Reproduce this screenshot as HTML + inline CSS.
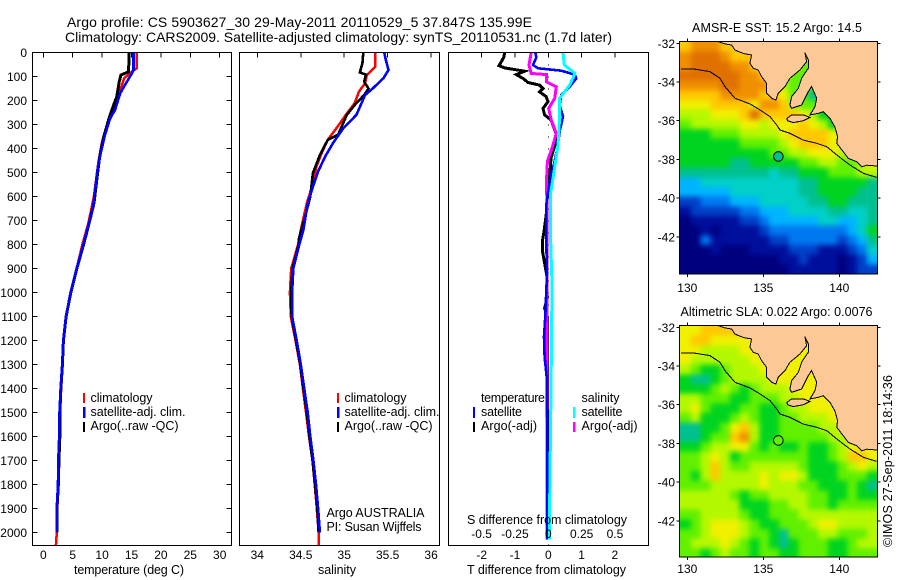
<!DOCTYPE html>
<html lang="en">
<head>
<meta charset="utf-8">
<title>Argo profile 5903627_30</title>
<style>
html,body{margin:0;padding:0;background:#fff;}
svg{display:block;}
text{font-family:"Liberation Sans",Arial,sans-serif;fill:#000;font-size:12px;}
.title{font-size:14px;}
.leg{font-size:12.5px;}
.axl{font-size:12.5px;}
.crisp{shape-rendering:crispEdges;}
</style>
</head>
<body>
<svg id="chart" xmlns="http://www.w3.org/2000/svg" width="900" height="580" viewBox="0 0 900 580">
  <defs>
    <filter id="fieldSmooth" filterUnits="userSpaceOnUse" x="640" y="0" width="260" height="580" color-interpolation-filters="sRGB">
      <feGaussianBlur stdDeviation="2.6"/>
      <feComponentTransfer>
        <feFuncA type="linear" slope="100" intercept="0"/>
      </feComponentTransfer>
    </filter>
    <clipPath id="mapClipA"><rect x="680" y="42" width="197" height="232"/></clipPath>
    <clipPath id="mapClipB"><rect x="680" y="326" width="197" height="231"/></clipPath>
  </defs>
  <rect x="0" y="0" width="900" height="580" fill="#fff"/>
  <text class="title" x="67" y="27" textLength="465">Argo profile: CS 5903627_30 29-May-2011 20110529_5 37.847S 135.99E</text>
  <text class="title" x="65" y="42" textLength="547">Climatology: CARS2009. Satellite-adjusted climatology: synTS_20110531.nc (1.7d later)</text>

  <g id="panelT"></g>
  <g id="panelS"></g>
  <g id="panelD"></g>
  <g id="mapA"></g>
  <g id="mapB"></g>

  <text class="axl" x="74" y="574" textLength="110">temperature (deg C)</text>
  <text class="axl" x="318" y="574" textLength="38">salinity</text>
  <text class="axl" x="467" y="574" textLength="159">T difference from climatology</text>
  <text class="axl" x="467" y="524" textLength="160">S difference from climatology</text>

  <rect class="crisp" x="83" y="393" width="2" height="10" fill="#ff0000"/>
  <rect class="crisp" x="83" y="407" width="2.5" height="11" fill="#0000ff"/>
  <rect class="crisp" x="83" y="422" width="2" height="10" fill="#000"/>
  <text class="leg" x="90.5" y="402" textLength="62">climatology</text>
  <text class="leg" x="90.5" y="416" textLength="95">satellite-adj. clim.</text>
  <text class="leg" x="90.5" y="430" textLength="88">Argo(..raw -QC)</text>

  <rect class="crisp" x="337" y="393" width="2" height="10" fill="#ff0000"/>
  <rect class="crisp" x="337" y="407" width="2.5" height="11" fill="#0000ff"/>
  <rect class="crisp" x="337" y="422" width="2" height="10" fill="#000"/>
  <text class="leg" x="344.5" y="402" textLength="62">climatology</text>
  <text class="leg" x="344.5" y="416" textLength="95">satellite-adj. clim.</text>
  <text class="leg" x="344.5" y="430" textLength="88">Argo(..raw -QC)</text>
  <text class="leg" x="326.5" y="517" textLength="98">Argo AUSTRALIA</text>
  <text class="leg" x="326.5" y="531" textLength="95">PI: Susan Wijffels</text>

  <text class="leg" x="481" y="402" textLength="64">temperature</text>
  <text class="leg" x="481" y="416" textLength="41">satellite</text>
  <text class="leg" x="481" y="430" textLength="56">Argo(-adj)</text>
  <text class="leg" x="581.5" y="402" textLength="38">salinity</text>
  <text class="leg" x="581.5" y="416" textLength="41">satellite</text>
  <text class="leg" x="581.5" y="430" textLength="56">Argo(-adj)</text>
  <rect class="crisp" x="473" y="407" width="2" height="11" fill="#0000ff"/>
  <rect class="crisp" x="473" y="422" width="2" height="10" fill="#000"/>
  <rect class="crisp" x="573" y="407" width="2.5" height="11" fill="#00ffff"/>
  <rect class="crisp" x="573" y="422" width="2.5" height="10" fill="#ff00ff"/>

  <text class="axl" x="692" y="32" textLength="170">AMSR-E SST: 15.2 Argo: 14.5</text>
  <text class="axl" x="680.5" y="316" textLength="192">Altimetric SLA: 0.022 Argo: 0.0076</text>
  <text class="axl" transform="translate(892,547) rotate(-90)" textLength="172">©IMOS 27-Sep-2011 18:14:36</text>
</svg>
<script>
/* ---------- shared tick data ---------- */
var depthTicks = [0,100,200,300,400,500,600,700,800,900,1000,1100,1200,1300,1400,1500,1600,1700,1800,1900,2000];
var tempTicks = [0,5,10,15,20,25,30];
var salTicks = [34,34.5,35,35.5,36];
var tDiffTicks = [-2,-1,0,1,2];
var sDiffTicks = [-0.5,-0.25,0,0.25,0.5];
var sDiffTickLabels = ["-0.5","-0.25","0","0.25","0.5"];
var lonTicks = [130,135,140];
var latTicks = [-32,-34,-36,-38,-40,-42];

/* ---------- temperature profiles ---------- */
var climTempDepth = [0,66,80,108,156,232,302,378,454,530,600,711,800,900,1000,1100,1200,1300,1400,1500,1600,1700,1800,1900,2000,2054];
var climTemp = [15.9,15.9,15.05,13.75,13.07,12.2,10.9,9.95,9.38,8.98,8.6,7.67,6.65,5.68,4.66,3.86,3.45,3.3,3.05,2.85,2.85,2.7,2.6,2.38,2.3,2.15];
var satTempDepth = [0,73,94,135,170,240,274,343,412,482,558,655,703,800,900,1000,1100,1200,1300,1400,1500,1600,1700,1800,1900,2000];
var satTemp = [15.34,15.34,14.9,13.9,13.07,12.2,11.36,10.5,9.83,9.26,8.87,8.4,7.84,6.8,5.68,4.66,3.86,3.4,3.23,2.95,2.75,2.7,2.55,2.5,2.3,2.3];
var argoTempDepth = [0,80,94,122,184,240,281,358,440,530,627,683,800,900,1000,1100,1200,1300,1400,1500,1600,1700,1800,1900,2000];
var argoTemp = [14.6,14.5,13.2,12.9,12.5,11.65,11.1,10.2,9.55,9.1,8.63,8.07,6.85,5.7,4.68,3.88,3.42,3.25,2.97,2.8,2.8,2.65,2.55,2.32,2.3];

/* ---------- salinity profiles ---------- */
var climSalDepth = [0,59,94,128,163,212,254,316,364,420,476,559,628,739,800,900,1000,1100,1200,1300,1400,1500,1600,1700,1800,1900,2000,2054];
var climSal = [35.354,35.36,35.26,35.24,35.17,35.12,35.03,34.91,34.81,34.74,34.68,34.63,34.57,34.5,34.47,34.39,34.375,34.385,34.44,34.49,34.525,34.56,34.595,34.635,34.66,34.685,34.705,34.71];
var satSalDepth = [0,32,73,108,149,177,260,316,378,434,496,559,628,739,800,900,1000,1100,1200,1300,1400,1500,1600,1700,1800,1900,2000];
var satSal = [35.46,35.48,35.51,35.45,35.33,35.24,35.14,34.99,34.87,34.78,34.7,34.64,34.58,34.53,34.483,34.414,34.4,34.4,34.453,34.5,34.54,34.58,34.61,34.645,34.675,34.7,34.72];
var argoSalDepth = [0,46,83,92,122,150,177,219,260,309,343,364,427,503,600,684,774,800,900,1000,1100,1200,1300,1400,1500,1600,1700,1800,1900,2000];
var argoSal = [35.22,35.21,35.18,35.25,35.23,35.28,35.23,35.12,35.03,34.97,34.93,34.81,34.72,34.64,34.61,34.55,34.48,34.475,34.405,34.39,34.395,34.445,34.495,34.53,34.57,34.6,34.635,34.665,34.69,34.705];

/* ---------- difference profiles ---------- */
var argoTDiffDepth = [0,21,55,64,78,92,108,125,136,150,164,184,205,233,260,281,337,385,440,496,580,663,746,788,823,878,934,1024,1065,1100,1336,2030];
var argoTDiff = [-1.31,-1.34,-1.48,-1.31,-0.71,-0.96,-0.76,-0.61,-0.26,-0.16,-0.26,-0.06,-0.01,-0.16,-0.11,0.08,0.23,0.2,0.08,0.05,-0.02,-0.05,-0.13,-0.18,-0.18,-0.11,-0.04,-0.03,-0.11,-0.03,-0.03,-0.03];
var satTDiffDepth = [0,21,52,66,76,92,108,143,177,219,267,330,385,454,510,580,635,788,920,1100,1183,1267,1350,1614,2030];
var satTDiff = [-0.39,-0.36,-0.46,-0.31,0.39,0.79,0.84,0.64,0.39,0.34,0.44,0.34,0.29,0.19,0.09,-0.01,-0.06,-0.06,-0.04,-0.09,-0.13,-0.11,-0.05,-0.03,-0.03];
var satSDiffDepth = [0,52,87,136,191,274,385,524,594,788,962,1336,1892,2030];
var satSDiff = [0.11,0.12,0.2,0.16,0.085,0.085,0.073,0.035,0.015,0.018,0.028,0.022,0.01,0.01];
var argoSDiffDepth = [0,52,87,92,122,143,191,233,281,337,385,454,552,635,788,1300,2030];
var argoSDiff = [-0.128,-0.145,-0.128,-0.015,-0.015,0.06,0.048,0.003,0.022,0.06,0.035,-0.007,-0.015,-0.008,-0.008,-0.008,-0.008];

/* ---------- map data ---------- */
/* colour-scale stops: one colour per level */
var levelColours = ["#00007f","#000f9c","#0040c8","#0078f0","#00b4ff","#00d0c8","#00c090","#00d420","#60f000","#b4f800","#f0f000","#ffc800","#f09000","#e07000"];
var sstLevels = [
[11,12,12,12,11,11,10,10,10,10,10,10,10,10,10,10,10,10,10,10],
[12,13,13,13,12,11,11,11,10,10,10,10,10,10,10,10,10,10,10,10],
[12,13,13,13,13,12,12,11,10,10,10,10,8,8,8,8,8,8,8,8],
[13,13,13,13,13,13,12,12,11,10,10,8,8,8,8,8,8,8,8,8],
[12,12,12,12,13,13,12,12,12,11,9,8,8,8,8,8,8,8,8,8],
[11,11,11,11,12,12,12,12,11,11,10,8,8,6,6,8,8,8,8,8],
[10,10,10,11,11,11,11,10,12,12,11,9,8,8,6,8,8,8,8,8],
[9,9,9,10,10,10,11,13,11,11,11,11,10,9,7,7,7,8,8,8],
[8,9,9,9,9,9,10,10,9,10,10,10,11,10,9,7,7,8,8,8],
[7,7,7,8,8,8,9,9,9,9,10,11,11,11,11,10,9,7,8,8],
[7,7,7,7,7,7,8,8,8,8,9,10,11,11,11,10,10,9,8,8],
[7,7,7,7,7,7,7,7,7,8,8,9,9,10,10,10,9,10,9,9],
[7,7,7,7,7,6,6,7,7,7,7,7,8,8,9,9,8,8,9,10],
[6,6,6,6,6,6,6,6,6,5,6,6,7,7,7,8,8,8,9,9],
[4,4,5,5,5,5,5,5,5,5,5,5,6,6,7,7,7,7,7,6],
[4,4,4,4,4,5,5,5,5,5,5,5,6,6,7,7,7,7,6,6],
[2,2,3,3,3,4,4,4,5,5,5,5,5,6,6,7,7,6,6,6],
[1,2,2,2,2,2,3,3,4,4,4,5,5,5,5,6,6,5,5,6],
[0,1,1,1,1,1,2,2,3,4,4,4,4,4,5,5,4,4,5,6],
[0,0,1,0,1,1,1,1,2,3,3,3,3,3,3,3,3,4,5,7],
[0,0,3,1,1,1,1,1,1,2,2,3,3,3,3,3,2,3,4,6],
[0,0,0,1,0,0,0,1,1,1,1,2,2,2,1,1,1,2,3,5],
[0,0,0,0,0,0,0,0,0,0,1,1,2,1,1,1,0,1,2,4],
[0,0,0,0,0,0,0,0,0,0,0,1,1,1,1,1,0,1,2,2]];
var slaLevels = [
[10,10,11,11,11,11,10,10,10,10,10,10,10,10,10,10,10,10,10,10],
[10,11,11,10,10,10,10,10,10,10,10,10,10,10,10,10,10,10,10,10],
[10,10,9,9,9,9,10,10,10,10,10,10,10,10,10,10,10,10,10,10],
[10,9,9,9,9,9,9,10,10,10,10,10,10,10,10,10,10,10,10,10],
[9,8,7,7,8,9,9,9,10,10,10,10,10,10,10,10,10,10,10,10],
[7,6,6,7,8,9,9,9,9,10,10,10,10,10,10,10,10,10,10,10],
[7,7,7,8,9,8,7,8,9,9,9,10,10,10,10,10,10,10,10,10],
[9,9,8,8,8,7,7,8,8,8,9,9,10,10,10,10,10,10,10,10],
[9,10,8,7,7,7,8,8,7,7,8,9,9,10,10,10,10,10,10,10],
[8,9,7,7,7,8,9,8,7,7,8,8,9,9,9,10,10,10,10,10],
[6,6,7,7,8,10,11,9,7,7,8,8,8,8,9,9,10,10,10,10],
[6,6,7,8,8,11,12,9,7,7,8,8,8,8,8,9,9,9,10,10],
[7,7,8,9,9,10,10,8,7,8,7,7,8,7,7,8,9,10,10,10],
[8,8,9,10,9,7,8,8,8,8,8,8,8,7,7,8,9,11,11,10],
[8,8,9,11,9,8,8,9,9,9,9,9,8,7,7,7,8,9,10,9],
[8,7,9,11,9,9,9,9,10,9,10,10,9,7,7,7,8,8,8,7],
[8,8,8,9,9,9,9,9,10,9,9,9,8,8,7,7,7,8,7,6],
[9,9,9,9,9,8,7,8,8,9,9,9,9,8,8,7,7,8,7,7],
[9,9,9,9,9,9,7,7,7,8,8,9,9,8,8,7,8,8,8,8],
[8,8,9,9,9,9,8,7,7,8,8,8,9,9,9,9,9,9,9,9],
[7,8,9,10,10,10,9,8,7,7,8,8,8,9,10,10,9,9,9,9],
[8,8,9,10,10,10,9,8,8,7,6,8,8,8,9,9,8,8,8,9],
[8,9,9,9,10,9,8,7,8,7,6,7,8,8,8,7,7,8,9,9],
[8,8,7,8,9,8,8,7,8,8,7,7,8,8,8,7,7,8,8,8]];
var gridLonStart = 129.585;
var gridLonStep = 0.6437;
var gridLatStart = -31.93;
var gridLatStep = 0.4996;

/* coast, island and 200 m isobath, longitude then latitude */
var coastLon = [132.03,132.47,132.91,133.13,133.36,133.79,134.23,134.12,134.34,134.67,134.89,135.22,135.22,135.55,135.83,135.99,136.43,136.75,137.41,137.85,137.74,137.96,137.96,137.52,137.3,136.86,136.75,136.86,137.52,137.96,138.18,138.51,138.4,138.07,138.62,138.95,139.39,139.72,139.89,139.83,140.26,140.59,141.14,141.47,141.8,142.46,143,143,132.03];
var coastLat = [-31.91,-32.03,-32.09,-32.34,-32.43,-32.55,-32.6,-33.03,-33.29,-33.38,-33.72,-34.07,-34.58,-34.84,-34.93,-34.58,-34.24,-33.81,-33.38,-32.95,-32.48,-32.86,-33.29,-33.81,-34.33,-34.76,-35.19,-35.36,-35.19,-34.5,-34.24,-34.84,-35.27,-35.7,-35.62,-35.53,-35.88,-36.33,-36.83,-37.17,-37.6,-37.95,-38.12,-38.38,-38.3,-38.34,-38.34,-31.5,-31.5];
var islandLon = [136.55,136.86,137.63,138.07,137.63,136.98,136.59];
var islandLat = [-35.88,-35.7,-35.7,-35.83,-36,-36.1,-36];
var isobathLon = [129.58,130.5,131.49,132.15,132.48,133.14,134.12,134.78,135.44,135.88,136.1,136.75,137.63,138.51,139.17,139.83,140.7,141.58,142.46];
var isobathLat = [-33.34,-33.34,-33.46,-33.81,-34.24,-34.84,-35.13,-35.44,-35.79,-36.22,-36.48,-36.65,-37,-37.17,-37.34,-37.77,-38.29,-38.72,-38.93];
var argoLon = 135.99;
var argoLat = -37.847;
var sstArgoLevel = 6;
var slaArgoLevel = 8;

/* ---------- axis functions ---------- */
function yDepth(d){ return 52.5 + d * 0.24; }
function xTemp(t){ return 43.3 + t * 5.88; }
function xSal(s){ return 257.3 + (s - 34) * 86.9; }
function xTDiff(t){ return 548.3 + t * 33.3; }
function xSDiff(s){ return 548.3 + s * 133.3; }
function xLon(lon){ return 687.3 + (lon - 130) * 15.2; }
function yLat(lat, top){ return top + (-32 - lat) * 19.35; }

var SVGNS = "http://www.w3.org/2000/svg";
function make(tag, parent){
  var el = document.createElementNS(SVGNS, tag);
  parent.appendChild(el);
  return el;
}
function setAll(el, props){
  for (var k in props) el.setAttribute(k, props[k]);
}
function drawLine(parent, name, x1, y1, x2, y2, w){
  var el = make("line", parent);
  
  
  setAll(el, {x1:x1, y1:y1, x2:x2, y2:y2, stroke:"#000", "stroke-width":w || 1, "class":"crisp"});
  return el;
}
function drawLabel(parent, name, txt, x, y, anchor){
  var el = make("text", parent);
  
  
  setAll(el, {x:x, y:y, "text-anchor":anchor || "middle"});
  el.textContent = txt;
  return el;
}
function drawFrame(parent, name, l, t, r, b){
  var el = make("rect", parent);
  
  
  setAll(el, {x:l, y:t, width:r-l, height:b-t, fill:"none", stroke:"#000", "stroke-width":1, "class":"crisp"});
}
function drawSeries(parent, name, xs, depths, xFn, colour, w){
  var pts = [];
  for (var i = 0; i < xs.length; i++) pts.push(xFn(xs[i]).toFixed(1) + "," + yDepth(depths[i]).toFixed(1));
  var el = make("polyline", parent);
  
  
  setAll(el, {points:pts.join(" "), fill:"none", stroke:colour, "stroke-width":w, "class":"crisp", "stroke-linejoin":"miter"});
}

var PT = 52.5, PB = 545.5;

/* ---------- temperature panel ---------- */
var panelT = document.getElementById("panelT");
drawSeries(panelT, "climatology-temperature-line", climTemp, climTempDepth, xTemp, "#ff0000", 2.5);
drawSeries(panelT, "argo-temperature-line", argoTemp, argoTempDepth, xTemp, "#000", 3);
drawSeries(panelT, "satellite-temperature-line", satTemp, satTempDepth, xTemp, "#0000ff", 2.6);
drawFrame(panelT, "temperature-plot-frame", 32.5, PT, 231.5, PB);
tempTicks.forEach(function(t){
  drawLine(panelT, "temperature-top-tick", xTemp(t), PT, xTemp(t), PT + 5);
  drawLabel(panelT, "temperature-tick-label", String(t), xTemp(t), 559);
});
depthTicks.forEach(function(d){
  drawLine(panelT, "depth-left-tick", 32.5, yDepth(d), 37.5, yDepth(d));
  drawLine(panelT, "depth-right-tick", 226.5, yDepth(d), 231.5, yDepth(d));
  drawLabel(panelT, "depth-tick-label", String(d), 27, yDepth(d) + 4.5, "end");
});

/* ---------- salinity panel ---------- */
var panelS = document.getElementById("panelS");
drawSeries(panelS, "climatology-salinity-line", climSal, climSalDepth, xSal, "#ff0000", 2.5);
drawSeries(panelS, "argo-salinity-line", argoSal, argoSalDepth, xSal, "#000", 2.6);
drawSeries(panelS, "satellite-salinity-line", satSal, satSalDepth, xSal, "#0000ff", 2.6);
drawFrame(panelS, "salinity-plot-frame", 239.5, PT, 439.5, PB);
salTicks.forEach(function(s){
  drawLine(panelS, "salinity-top-tick", xSal(s), PT, xSal(s), PT + 5);
  drawLabel(panelS, "salinity-tick-label", String(s), xSal(s), 559);
});

/* ---------- difference panel ---------- */
var panelD = document.getElementById("panelD");
depthTicks.forEach(function(d){
  var dot = make("rect", panelD);
  
  
  setAll(dot, {x:548, y:yDepth(d), width:1, height:1, fill:"#000", "class":"crisp"});
  var dot2 = make("rect", panelD);
  
  
  setAll(dot2, {x:548, y:yDepth(d) + 12, width:1, height:1, fill:"#000", "class":"crisp"});
});
drawSeries(panelD, "argo-t-difference-line", argoTDiff, argoTDiffDepth, xTDiff, "#000", 3);
drawSeries(panelD, "argo-s-difference-line", argoSDiff, argoSDiffDepth, xSDiff, "#ff00ff", 3);
drawSeries(panelD, "satellite-t-difference-line", satTDiff, satTDiffDepth, xTDiff, "#0000ff", 2.6);
drawSeries(panelD, "satellite-s-difference-line", satSDiff, satSDiffDepth, xSDiff, "#00ffff", 3);
drawFrame(panelD, "difference-plot-frame", 448.5, PT, 648.5, PB);
tDiffTicks.forEach(function(t){
  drawLine(panelD, "difference-top-tick", xTDiff(t), PT, xTDiff(t), PT + 5);
  drawLabel(panelD, "t-difference-tick-label", String(t), xTDiff(t), 559);
});
sDiffTicks.forEach(function(s, i){
  drawLabel(panelD, "s-difference-tick-label", sDiffTickLabels[i], xSDiff(s), 538);
});

/* ---------- maps ---------- */
function drawMap(groupId, levels, top, frameTop, frameBottom, labelY, argoLevel, clipId){
  var g = document.getElementById(groupId);
  var clipped = make("g", g);
  
  
  clipped.setAttribute("clip-path", "url(#" + clipId + ")");
  var field = make("g", clipped);
  
  
  field.setAttribute("filter", "url(#fieldSmooth)");
  levels.forEach(function(row, r){
    row.forEach(function(level, c){
      var lon0 = gridLonStart + c * gridLonStep;
      var lat0 = gridLatStart - r * gridLatStep;
      var cell = make("rect", field);
      
      
      var x0 = xLon(lon0), y0 = yLat(lat0, top);
      var x1 = xLon(lon0 + gridLonStep), y1 = yLat(lat0 - gridLatStep, top);
      setAll(cell, {x:x0.toFixed(2), y:y0.toFixed(2), width:(x1-x0+0.6).toFixed(2), height:(y1-y0+0.6).toFixed(2), fill:levelColours[level], "class":"crisp"});
    });
  });
  function pts(lons, lats){
    var out = [];
    for (var i = 0; i < lons.length; i++){
      out.push(xLon(lons[i]).toFixed(1) + "," + yLat(lats[i], top).toFixed(1));
    }
    return out.join(" ");
  }
  var land = make("polygon", clipped);
  
  
  setAll(land, {points:pts(coastLon, coastLat), fill:"#fcc896", stroke:"#000", "stroke-width":1, "class":"crisp"});
  var island = make("polygon", clipped);
  
  
  setAll(island, {points:pts(islandLon, islandLat), fill:"#fcc896", stroke:"#000", "stroke-width":1, "class":"crisp"});
  var iso = make("polyline", clipped);
  
  
  setAll(iso, {points:pts(isobathLon, isobathLat), fill:"none", stroke:"#000", "stroke-width":1, "class":"crisp"});
  var mark = make("circle", g);
  
  
  setAll(mark, {cx:xLon(argoLon), cy:yLat(argoLat, top), r:4.8, fill:levelColours[argoLevel], stroke:"#000", "stroke-width":1});
  var bg = make("rect", g);
  
  
  setAll(bg, {x:679.5, y:frameTop, width:198, height:frameBottom-frameTop, fill:"none", stroke:"#000", "stroke-width":1, "class":"crisp"});
  lonTicks.forEach(function(lon){
    drawLine(g, "map-top-tick", xLon(lon), frameTop, xLon(lon), frameTop - 3);
    drawLine(g, "map-bottom-tick", xLon(lon), frameBottom, xLon(lon), frameBottom + 3);
    drawLabel(g, "map-longitude-label", String(lon), xLon(lon), labelY);
  });
  latTicks.forEach(function(lat){
    drawLine(g, "map-left-tick", 679.5, yLat(lat, top), 676.5, yLat(lat, top));
    drawLine(g, "map-right-tick", 877.5, yLat(lat, top), 880.5, yLat(lat, top));
    drawLabel(g, "map-latitude-label", String(lat), 675, yLat(lat, top) + 4.5, "end");
  });
}
drawMap("mapA", sstLevels, 43.3, 41.5, 274, 292, sstArgoLevel, "mapClipA");
drawMap("mapB", slaLevels, 327.3, 325.5, 557, 573, slaArgoLevel, "mapClipB");
</script>
</body>
</html>
